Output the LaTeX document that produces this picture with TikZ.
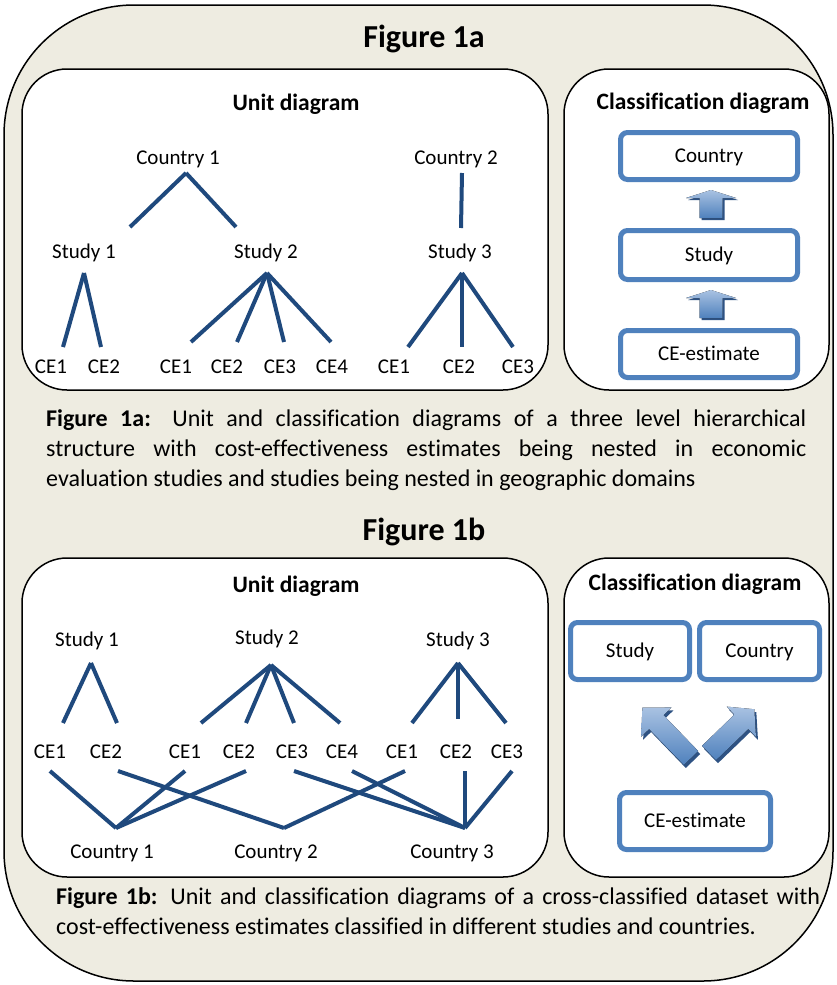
\documentclass[tikz,border=0pt]{standalone}
\usepackage{fontspec}
\setmainfont{Carlito}[Ligatures=NoCommon]
\usetikzlibrary{calc}

\definecolor{tan}{HTML}{EEECE1}
\definecolor{treeblue}{HTML}{1F497D}
\definecolor{clsblue}{HTML}{4F81BD}
\definecolor{arrlight}{HTML}{A9C2E2}
\definecolor{arrdark}{HTML}{2E5283}

\tikzset{
  lbl/.style={font=\fontsize{21}{25}\selectfont, inner sep=0pt,
    text height=13.5pt, text depth=0pt},
  heading/.style={font=\bfseries\fontsize{23.5}{28}\selectfont, inner sep=0pt,
    text height=15pt, text depth=0pt},
  ttl/.style={font=\bfseries\fontsize{32}{38}\selectfont, inner sep=0pt,
    text height=20.5pt, text depth=0pt},
  capt/.style={font=\fontsize{24}{30}\selectfont, inner sep=0pt,
    align=justify, anchor=north west},
  panel/.style={draw=black, line width=1.5pt, fill=white, rounded corners=45pt},
  tie/.style={draw=treeblue, line width=4pt},
  clsbox/.style={draw=clsblue, line width=5pt, fill=white, rounded corners=7pt,
    font=\fontsize{21}{25}\selectfont, text height=13.5pt, text depth=0pt},
  arrface/.style={top color=arrlight, bottom color=clsblue},
  arrshadow/.style={fill=arrdark},
  pics/uparr/.style={code={
    \fill[#1] (0,-11.5) -- (20,-11.5) -- (20,-25) -- (28,0) -- (20,25)
      -- (20,11.5) -- (0,11.5) -- cycle;}},
  pics/diagarr/.style={code={
    \fill[#1] (0,-10) -- (50,-10) -- (50,-21) -- (70,0) -- (50,21)
      -- (50,10) -- (0,10) -- cycle;}},
}

\begin{document}
\begin{tikzpicture}[x=1pt, y=-1pt]
  \useasboundingbox (0,0) rectangle (836,985);
  \fill[white] (0,0) rectangle (836,985);
  \draw[line width=1.5pt, fill=tan, rounded corners=130pt] (4,5) rectangle (833,981);

  % ---------- Figure 1a ----------
  \node[ttl] (t1) at (424,37) {Figure 1a};
  \draw[panel] (22,69) rectangle (548,390);
  \draw[panel] (564,69) rectangle (829,390);
  \node[heading] (u1) at (296,103) {Unit diagram};
  \node[heading] (h1) at (703,102) {Classification diagram};

  \node[lbl] (c1) at (178,158) {Country 1};
  \node[lbl] (c2) at (456,158) {Country 2};
  \node[lbl] (s1) at (84,252) {Study 1};
  \node[lbl] (s2) at (266,252) {Study 2};
  \node[lbl] (s3) at (460,252) {Study 3};
  \node[lbl] (a11) at (51,367) {CE1};
  \node[lbl] (a12) at (104,367) {CE2};
  \node[lbl] (a21) at (176,367) {CE1};
  \node[lbl] (a22) at (227,367) {CE2};
  \node[lbl] (a23) at (280,367) {CE3};
  \node[lbl] (a24) at (332,367) {CE4};
  \node[lbl] (a31) at (394,367) {CE1};
  \node[lbl] (a32) at (459,367) {CE2};
  \node[lbl] (a33) at (518,367) {CE3};

  \draw[tie] ($(c1)+(8,15)$) -- ($(s1)+(46,-25)$);
  \draw[tie] ($(c1)+(8,15)$) -- ($(s2)+(-30,-25)$);
  \draw[tie] ($(c2)+(6,15)$) -- ($(s3)+(1,-24)$);
  \draw[tie] ($(s1)+(0,21)$) -- ($(a11)+(12,-20)$);
  \draw[tie] ($(s1)+(0,21)$) -- ($(a12)+(-3,-20)$);
  \draw[tie] ($(s2)+(1,21)$) -- ($(a21)+(15,-25)$);
  \draw[tie] ($(s2)+(1,21)$) -- ($(a22)+(10,-25)$);
  \draw[tie] ($(s2)+(1,21)$) -- ($(a23)+(4,-25)$);
  \draw[tie] ($(s2)+(1,21)$) -- ($(a24)+(-1,-25)$);
  \draw[tie] ($(s3)+(2,21)$) -- ($(a31)+(14,-20)$);
  \draw[tie] ($(s3)+(2,21)$) -- ($(a32)+(3,-20)$);
  \draw[tie] ($(s3)+(2,21)$) -- ($(a33)+(-5,-20)$);

  \node[clsbox, minimum width=177pt, minimum height=47pt] (cco) at (709,156) {Country};
  \node[clsbox, minimum width=177pt, minimum height=49pt] (cst) at (709,255) {Study};
  \node[clsbox, minimum width=177pt, minimum height=47pt] (cce) at (709,354) {CE-estimate};
  \pic[rotate=90] at ($(cst.north)+(4,-8)$) {uparr=arrshadow};
  \pic[rotate=90] at ($(cst.north)+(2,-10)$) {uparr=arrface};
  \pic[rotate=90] at ($(cce.north)+(4,-8)$) {uparr=arrshadow};
  \pic[rotate=90] at ($(cce.north)+(2,-10)$) {uparr=arrface};

  \node[capt, text width=760pt] (cap1) at (46,409) {\textbf{Figure 1a:} Unit and
    classification diagrams of a three level hierarchical\linebreak structure with
    cost-effectiveness estimates being nested in economic\linebreak evaluation
    studies and studies being nested in geographic domains};

  % ---------- Figure 1b ----------
  \node[ttl] (t2) at (424,530) {Figure 1b};
  \draw[panel] (22,558) rectangle (548,877);
  \draw[panel] (564,558) rectangle (829,877);
  \node[heading] (u2) at (296,585) {Unit diagram};
  \node[heading] (h2) at (695,583) {Classification diagram};

  \node[lbl] (b1) at (87,640) {Study 1};
  \node[lbl] (b2) at (267,638) {Study 2};
  \node[lbl] (b3) at (458,640) {Study 3};
  \node[lbl] (d11) at (50,752) {CE1};
  \node[lbl] (d12) at (106,752) {CE2};
  \node[lbl] (d21) at (185,752) {CE1};
  \node[lbl] (d22) at (239,752) {CE2};
  \node[lbl] (d23) at (292,752) {CE3};
  \node[lbl] (d24) at (342,752) {CE4};
  \node[lbl] (d31) at (402,752) {CE1};
  \node[lbl] (d32) at (456,752) {CE2};
  \node[lbl] (d33) at (507,752) {CE3};
  \node[lbl] (k1) at (112,852) {Country 1};
  \node[lbl] (k2) at (276,852) {Country 2};
  \node[lbl] (k3) at (452,852) {Country 3};

  \draw[tie] ($(b1)+(4,23)$) -- ($(d11)+(13,-29)$);
  \draw[tie] ($(b1)+(4,23)$) -- ($(d12)+(11,-29)$);
  \draw[tie] ($(b2)+(4,27)$) -- ($(d21)+(16,-29)$);
  \draw[tie] ($(b2)+(4,27)$) -- ($(d22)+(7,-29)$);
  \draw[tie] ($(b2)+(4,27)$) -- ($(d23)+(2,-29)$);
  \draw[tie] ($(b2)+(4,27)$) -- ($(d24)+(-2,-29)$);
  \draw[tie] ($(b3)+(0,23)$) -- ($(d31)+(10,-29)$);
  \draw[tie] ($(b3)+(0,23)$) -- ($(d32)+(2,-33)$);
  \draw[tie] ($(b3)+(0,23)$) -- ($(d33)+(-1,-29)$);

  % cross links down to the countries
  \draw[tie] ($(d11)+(0,19)$) -- ($(k1)+(4,-24)$);
  \draw[tie] ($(d21)+(0,19)$) -- ($(k1)+(4,-24)$);
  \draw[tie] ($(d22)+(7,19)$) -- ($(k1)+(4,-24)$);
  \draw[tie] ($(d12)+(12,19)$) -- ($(k2)+(8,-24)$);
  \draw[tie] ($(d31)+(3,19)$) -- ($(k2)+(8,-24)$);
  \draw[tie] ($(d23)+(2,19)$) -- ($(k3)+(13,-24)$);
  \draw[tie] ($(d24)+(10,19)$) -- ($(k3)+(13,-24)$);
  \draw[tie] ($(d32)+(9,19)$) -- ($(k3)+(13,-24)$);
  \draw[tie] ($(d33)+(5,19)$) -- ($(k3)+(13,-24)$);

  \node[clsbox, minimum width=119pt, minimum height=57pt] (xst) at (630,651) {Study};
  \node[clsbox, minimum width=120pt, minimum height=57pt] (xco) at (759.5,651) {Country};
  \node[clsbox, minimum width=151pt, minimum height=57pt] (xce) at (695,821) {CE-estimate};
  \pic[rotate=134] at ($(xce.north)+(-2,-29)$) {diagarr=arrshadow};
  \pic[rotate=134] at ($(xce.north)+(-4,-32)$) {diagarr=arrface};
  \pic[rotate=44, xscale=0.9] at ($(xce.north)+(16,-34)$) {diagarr=arrshadow};
  \pic[rotate=44, xscale=0.9] at ($(xce.north)+(14,-37)$) {diagarr=arrface};

  \node[capt, text width=764pt] (cap2) at (56,887) {\textbf{Figure 1b:} Unit and
    classification diagrams of a cross-classified dataset with\linebreak
    cost-effectiveness estimates classified in different studies and countries.};
\end{tikzpicture}
\end{document}
